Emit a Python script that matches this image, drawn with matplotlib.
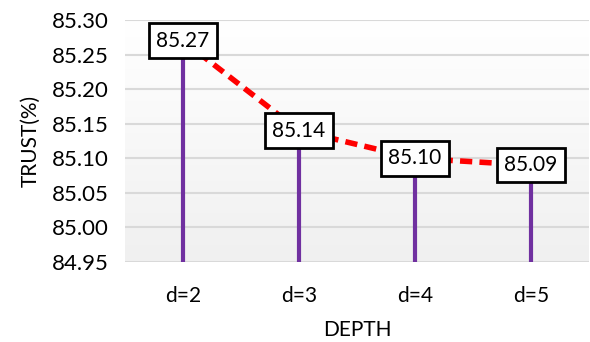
import numpy as np
import matplotlib.pyplot as plt

plt.rcParams['font.family'] = ['Lato', 'DejaVu Sans']

depths = ["d=2", "d=3", "d=4", "d=5"]
trust = [85.27, 85.14, 85.10, 85.09]
y_ticks = [84.95, 85.00, 85.05, 85.10, 85.15, 85.20, 85.25, 85.30]

fig = plt.figure(figsize=(5.9, 3.42), dpi=100)
ax = fig.add_axes([125 / 590, 1 - 262 / 342, 464 / 590, 242 / 342])

# soft vertical gradient behind the plot area
grad = np.linspace(1.0, 0.0, 256).reshape(-1, 1)
ax.imshow(grad, extent=[0, 1, 0, 1], transform=ax.transAxes, aspect='auto',
          cmap=plt.matplotlib.colors.LinearSegmentedColormap.from_list(
              "bg", ["#f0f0f0", "#ffffff"]), zorder=0)

x = np.arange(len(depths))
ax.set_xlim(-0.5, len(depths) - 0.5)
ax.set_ylim(84.95, 85.30)

for yt in y_ticks:
    ax.axhline(yt, color="#d9d9d9", lw=1.5, zorder=1)

ax.vlines(x, 84.95, trust, color="#7030a0", lw=3, zorder=2)
ax.plot(x, trust, color="#ff0000", lw=4, ls=(0, (2.2, 1.3)), zorder=3)

for xi, v in zip(x, trust):
    ax.text(xi, v, f"{v:.2f}", ha="center", va="center", fontsize=15,
            zorder=4,
            bbox=dict(boxstyle="square,pad=0.35", fc="white", ec="black", lw=2))

ax.set_xticks(x)
ax.set_xticklabels(depths, fontsize=15)
ax.set_yticks(y_ticks)
ax.set_yticklabels([f"{t:.2f}" for t in y_ticks], fontsize=16)
ax.tick_params(length=0, pad=12)
ax.tick_params(axis='x', pad=17)
for s in ax.spines.values():
    s.set_visible(False)

ax.set_xlabel("DEPTH", fontsize=15, labelpad=10)
ax.set_ylabel("TRUST(%)", fontsize=15, labelpad=8)

fig.savefig("out.png", dpi=100)
